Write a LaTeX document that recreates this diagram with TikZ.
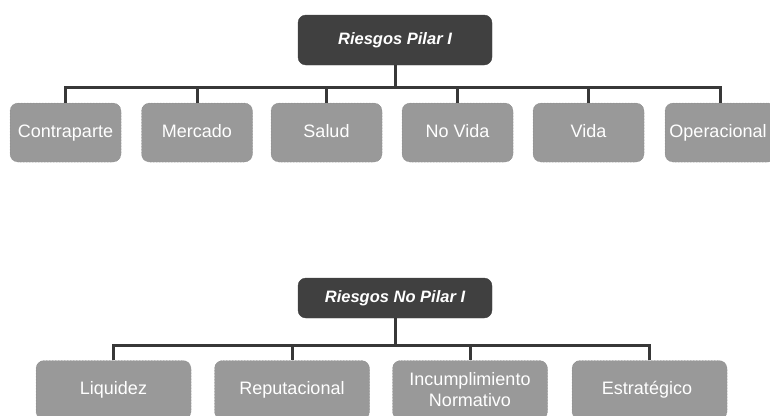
\documentclass[tikz,border=0pt]{standalone}
\usepackage{fontspec}
\setmainfont{Liberation Sans}
\usepackage{tikz}
\usetikzlibrary{positioning}
\usetikzlibrary{calc}
\definecolor{hdrcol}{HTML}{404040}
\definecolor{boxcol}{HTML}{999999}
\definecolor{edgecol}{HTML}{858585}
\definecolor{linecol}{HTML}{383838}
\tikzstyle{hdr}=[fill=hdrcol, draw=hdrcol, rounded corners=8pt, text=white, minimum width=194pt, inner sep=0pt, font=\fontsize{16.5}{18}\selectfont\bfseries\itshape]
\tikzstyle{risk}=[fill=boxcol, draw=edgecol, densely dotted, line width=0.5pt, rounded corners=8pt, text=white, minimum height=59pt, inner sep=0pt, align=center, font=\fontsize{18}{21}\selectfont]
\tikzstyle{oneline}=[text height=13.5pt, text depth=3pt]
\tikzstyle{link}=[draw=linecol, line width=3pt]

\begin{document}
\begin{tikzpicture}[x=1pt, y=-1pt]

    % page frame, y grows downwards like the original
    \useasboundingbox (0,0) rectangle (770,415);

    % Pilar I: header and its six children {x-position/number/label}
    \node[hdr, minimum height=50pt] (pilar) at (395,40) {Riesgos Pilar I};
    \foreach \x/\n/\txt in {
        65.5/1/Contraparte, 197/2/Mercado, 326.5/3/Salud,
        457.5/4/No Vida, 588.5/5/Vida, 720.5/6/Operacional
    } {
        \node[risk, oneline, minimum width=111pt] (pil\n) at (\x,132.5) {\txt};
        % elbow from the header down to the box
        \draw[link] (pilar.south) -- ++(0,22) -| (pil\n.north);
    }

    % No Pilar I: header and its four children
    \node[hdr, minimum height=40pt] (nopilar) at (395,298) {Riesgos No Pilar I};
    \foreach \x/\n/\txt in {
        113.5/1/Liquidez, 292/2/Reputacional,
        470/3/Incumplimiento\\Normativo, 649.5/4/Estratégico
    } {
        \node[risk, minimum width=155pt] (nop\n) at (\x,390) {\txt};
        \draw[link] (nopilar.south) -- ++(0,27) -| (nop\n.north);
    }

\end{tikzpicture}
\end{document}
